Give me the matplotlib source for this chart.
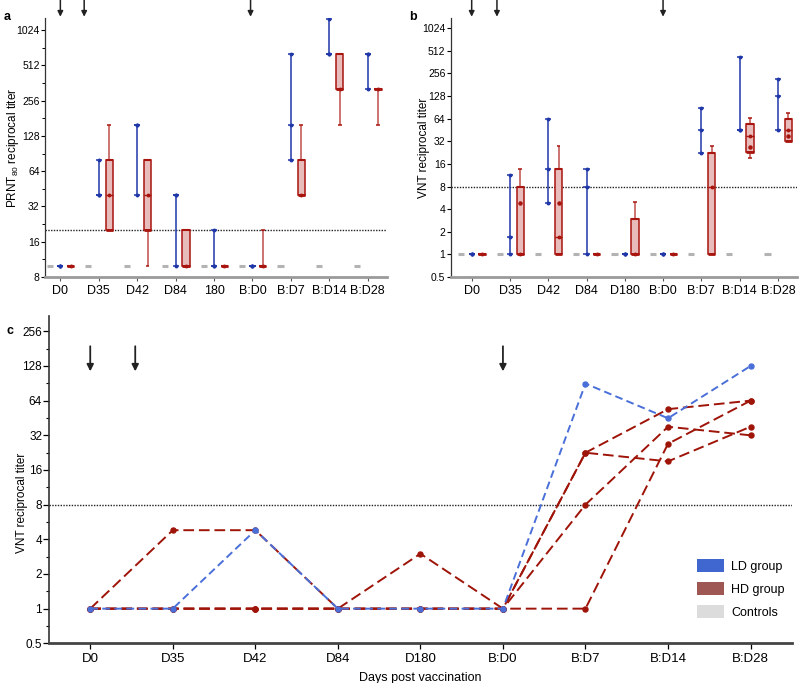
import numpy as np
import matplotlib
matplotlib.use('Agg')
import matplotlib.pyplot as plt
from matplotlib.patches import Patch, Rectangle
from matplotlib.ticker import FixedLocator, NullFormatter

plt.rcParams['font.family'] = ['Liberation Sans', 'DejaVu Sans']
plt.rcParams['mathtext.fontset'] = 'custom'
plt.rcParams['mathtext.rm'] = 'Liberation Sans'

# ---- data ----
cats_a = ['D0', 'D35', 'D42', 'D84', '180', 'B:D0', 'B:D7', 'B:D14', 'B:D28']
cats_b = ['D0', 'D35', 'D42', 'D84', 'D180', 'B:D0', 'B:D7', 'B:D14', 'B:D28']

# panel a: PRNT80
ctrl_a = [10, 10, 10, 10, 10, 10, 10, 10, 10]
ld_a_min = [10, 40, 40, 10, 10, 10, 80, 640, 320]
ld_a_mid = [10, 40, 160, 40, 10, 10, 160, 640, 640]
ld_a_max = [10, 80, 160, 40, 20, 10, 640, 1280, 640]
hd_a_lo = [10, 20, 10, 10, 10, 10, 40, 160, 160]
hd_a_q1 = [10, 20, 20, 10, 10, 10, 40, 320, 320]
hd_a_med = [10, 40, 40, 10, 10, 10, 40, 320, 320]
hd_a_q3 = [10, 80, 80, 20, 10, 10, 80, 640, 320]
hd_a_hi = [10, 160, 80, 20, 10, 20, 160, 640, 320]

# panel b: VNT
ctrl_b = [1, 1, 1, 1, 1, 1, 1, 1, 1]
ld_b_min = [1, 1, 4.8, 1, 1, 1, 22.6, 45, 45]
ld_b_mid = [1, 1.7, 13.5, 8, 1, 1, 45, 45, 128]
ld_b_max = [1, 11.3, 64, 13.5, 1, 1, 90, 430, 215]
hd_b_lo = [1, 1, 1, 1, 1, 1, 1, 19.3, 32]
hd_b_q1 = [1, 1, 1, 1, 1, 1, 1, 23.4, 32]
hd_b_med = [1, 1, 1.7, 1, 1, 1, 8, 38, 45]
hd_b_q3 = [1, 8, 13.5, 1, 3, 1, 22.6, 54, 64]
hd_b_hi = [1, 13.5, 27.7, 1, 5, 1, 27.7, 66, 77]
hd_b_mean = [np.nan, 4.8, 4.8, np.nan, np.nan, np.nan, np.nan, 27, 38]

# panel c: individual VNT
ld_c = [1, 1, 4.8, 1, 1, 1, 90, 45, 128]
hd_c1 = [1, 4.8, 4.8, 1, 3, 1, 22.6, 54, 64]
hd_c2 = [1, 1, 1, 1, 1, 1, 22.6, 19, 38]
hd_c3 = [1, 1, 1, 1, 1, 1, 8, 38, 32]
hd_c4 = [1, 1, 1, 1, 1, 1, 1, 27, 64]

BLUE = '#1f37a8'
RED = '#a8140e'
PINK = '#e9bcbc'
GRAY = '#b3b3b3'
C_BLUE = '#4a6fd8'
C_RED = '#9e1408'

fig = plt.figure(figsize=(7.99, 6.83), dpi=100)
ax_a = fig.add_axes([0.0563, 0.5944, 0.428, 0.3792])
ax_b = fig.add_axes([0.564, 0.5944, 0.4335, 0.3792])
ax_c = fig.add_axes([0.0613, 0.0581, 0.9297, 0.4797])


def draw_panel(ax, cats, ctrl, lmin, lmid, lmax, hlo, hq1, hmed, hq3, hhi, hmean=None):
    x = np.arange(len(cats))
    off = 0.27
    # controls
    ax.hlines(ctrl, x - off - 0.08, x - off + 0.08, color=GRAY, lw=2.2, zorder=2)
    # LD group: range bars
    ax.vlines(x, lmin, lmax, color=BLUE, lw=1.1, zorder=3)
    for arr in (lmin, lmid, lmax):
        ax.hlines(arr, x - 0.08, x + 0.08, color=BLUE, lw=1.1, zorder=3)
        ax.plot(x, arr, 'o', ms=1.8, color=BLUE, zorder=4)
    # HD group: box plots
    xr = x + off
    w = 0.19
    ax.vlines(xr, hlo, hhi, color=RED, lw=1.1, alpha=0.75, zorder=2)
    ax.hlines(hlo, xr - 0.05, xr + 0.05, color=RED, lw=1.1, zorder=3)
    ax.hlines(hhi, xr - 0.05, xr + 0.05, color=RED, lw=1.1, zorder=3)
    for xi, q1, q3 in zip(xr, hq1, hq3):
        ax.add_patch(Rectangle((xi - w / 2, q1), w, q3 - q1, facecolor=PINK,
                               edgecolor=RED, lw=1.1, zorder=3))
    ax.hlines(hq1, xr - w / 2, xr + w / 2, color=RED, lw=2, zorder=4)
    ax.hlines(hq3, xr - w / 2, xr + w / 2, color=RED, lw=1.5, zorder=4)
    ax.hlines(hmed, xr - w / 2, xr + w / 2, color=RED, lw=1.0, zorder=4)
    ax.plot(xr, hmed, 'o', ms=1.8, color=RED, zorder=5)
    if hmean is not None:
        ax.plot(xr, hmean, 'o', ms=2.2, color=RED, zorder=5)

    ax.set_yscale('log', base=2)
    ax.set_xticks(x)
    ax.set_xticklabels(cats, fontsize=9)
    for s in ('top', 'right'):
        ax.spines[s].set_visible(False)
    ax.spines['bottom'].set_color('#9a9a9a')
    ax.spines['bottom'].set_linewidth(2)
    ax.spines['left'].set_color('#333333')
    ax.spines['left'].set_linewidth(0.9)
    ax.tick_params(axis='x', length=3, color='#555555', pad=3)
    ax.tick_params(axis='y', labelsize=7.5, length=3, width=0.8, pad=0.8)
    ax.tick_params(axis='y', which='minor', length=2, width=0.7)


draw_panel(ax_a, cats_a, ctrl_a, ld_a_min, ld_a_mid, ld_a_max,
           hd_a_lo, hd_a_q1, hd_a_med, hd_a_q3, hd_a_hi)
yt_a = [8, 16, 32, 64, 128, 256, 512, 1024]
ax_a.set_ylim(8, 1300)
ax_a.set_xlim(-0.4, 8.5)
ax_a.set_yticks(yt_a)
ax_a.set_yticklabels([str(v) for v in yt_a])
ax_a.yaxis.set_minor_formatter(NullFormatter())
ax_a.yaxis.set_minor_locator(FixedLocator([v * np.sqrt(2) for v in yt_a]))
ax_a.axhline(20, color='#222222', ls=(0, (1, 1)), lw=1, zorder=1)
ax_a.set_ylabel('PRNT$_{80}$ reciprocal titer', fontsize=8.5)
ax_a.yaxis.set_label_coords(-0.07, 0.5)

draw_panel(ax_b, cats_b, ctrl_b, ld_b_min, ld_b_mid, ld_b_max,
           hd_b_lo, hd_b_q1, hd_b_med, hd_b_q3, hd_b_hi, hd_b_mean)
yt_b = [0.5, 1, 2, 4, 8, 16, 32, 64, 128, 256, 512, 1024]
ax_b.set_ylim(0.5, 1400)
ax_b.set_xlim(-0.55, 8.5)
ax_b.set_yticks(yt_b)
ax_b.set_yticklabels(['0.5'] + [str(int(v)) for v in yt_b[1:]])
ax_b.yaxis.set_minor_formatter(NullFormatter())
ax_b.yaxis.set_minor_locator(FixedLocator([]))
ax_b.axhline(8, color='#222222', ls=(0, (1, 1)), lw=1, zorder=1)
ax_b.set_ylabel('VNT reciprocal titer', fontsize=8.5)
ax_b.yaxis.set_label_coords(-0.06, 0.5)

# arrows (vaccinations) above panels a and b
for ax, xs in ((ax_a, [0, 0.62, 4.95]), (ax_b, [0, 0.66, 5])):
    tr = ax.get_xaxis_transform()
    for xv in xs:
        ax.annotate('', xy=(xv, 1.005), xytext=(xv, 1.075), xycoords=tr, textcoords=tr,
                    annotation_clip=False,
                    arrowprops=dict(arrowstyle='-|>', color='#222222', lw=1.1,
                                    mutation_scale=8, shrinkA=0, shrinkB=0))

# ---- panel c ----
xc = np.arange(len(cats_b))
for hd in (hd_c1, hd_c2, hd_c3, hd_c4):
    ax_c.plot(xc, hd, ls=(0, (5.5, 2.5)), color=C_RED, lw=1.4, marker='o', ms=3.6, zorder=3)
ax_c.plot(xc, ld_c, ls=(0, (4, 2.2)), color=C_BLUE, lw=1.4, marker='o', ms=3.6, zorder=4)
ax_c.axhline(8, color='#222222', ls=(0, (1, 1)), lw=1, zorder=1)
ax_c.set_yscale('log', base=2)
yt_c = [0.5, 1, 2, 4, 8, 16, 32, 64, 128, 256]
ax_c.set_ylim(0.5, 350)
ax_c.set_xlim(-0.5, 8.5)
ax_c.set_yticks(yt_c)
ax_c.set_yticklabels(['0.5'] + [str(int(v)) for v in yt_c[1:]])
ax_c.yaxis.set_minor_locator(FixedLocator([v * np.sqrt(2) for v in yt_c]))
ax_c.yaxis.set_minor_formatter(NullFormatter())
ax_c.set_xticks(xc)
ax_c.set_xticklabels(cats_b, fontsize=9.5)
ax_c.tick_params(axis='y', labelsize=8.5, length=4, width=0.9, pad=1)
ax_c.tick_params(axis='y', which='minor', length=2.5, width=0.8)
ax_c.tick_params(axis='x', length=4, width=0.9, pad=3)
for s in ('top', 'right'):
    ax_c.spines[s].set_visible(False)
ax_c.spines['left'].set_color('#333333')
ax_c.spines['left'].set_linewidth(1.2)
ax_c.spines['bottom'].set_color('#444444')
ax_c.spines['bottom'].set_linewidth(2)
ax_c.set_ylabel('VNT reciprocal titer', fontsize=8.5)
ax_c.yaxis.set_label_coords(-0.028, 0.43)
ax_c.set_xlabel('Days post vaccination', fontsize=9, labelpad=5)

for xv in (0, 0.545, 5):
    ax_c.annotate('', xy=(xv, 115), xytext=(xv, 190),
                  arrowprops=dict(arrowstyle='-|>', color='#222222', lw=1.3,
                                  mutation_scale=10, shrinkA=0, shrinkB=0))

handles = [Patch(facecolor='#3f67cf', label='LD group'),
           Patch(facecolor='#9e5752', label='HD group'),
           Patch(facecolor='#dcdcdc', label='Controls')]
ax_c.legend(handles=handles, loc='lower right', bbox_to_anchor=(0.997, 0.06),
            borderaxespad=0, frameon=False, fontsize=9, handlelength=2.2,
            handleheight=1.2, labelspacing=0.75, handletextpad=0.55)

fig.text(0.004, 0.975, 'a', fontsize=9, fontweight='bold', va='center')
fig.text(0.512, 0.975, 'b', fontsize=9, fontweight='bold', va='center')
fig.text(0.008, 0.515, 'c', fontsize=9, fontweight='bold', va='center')

fig.savefig('out.png', dpi=100)
